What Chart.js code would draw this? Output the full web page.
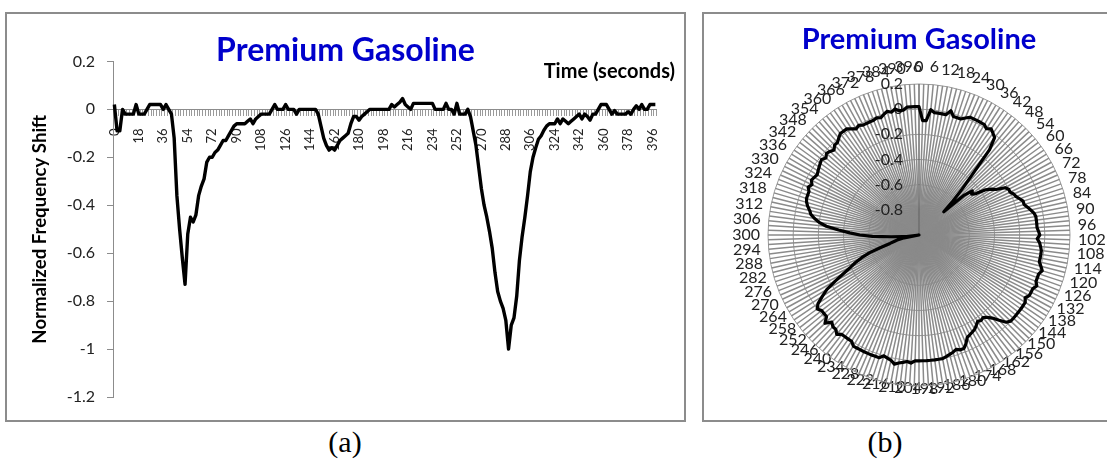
<!DOCTYPE html>
<html>
<head>
<meta charset="utf-8">
<script src="https://cdn.jsdelivr.net/npm/chart.js@4.4.1/dist/chart.umd.min.js"></script>
<style>
html, body { margin:0; padding:0; background:#fff; }
body { width:1107px; height:460px; overflow:hidden; position:relative; }
.box { position:absolute; border:2px solid #8c8c8c; box-sizing:border-box; background:#fff; }
#boxA { left:5px; top:12px; width:681px; height:410px; }
#boxB { left:702px; top:12px; width:440px; height:410px; }
canvas { display:block; }
.cap { position:absolute; top:427px; width:120px; text-align:center; font-family:'Liberation Serif', 'Times New Roman', serif; font-size:30px; line-height:30px; color:#000; }
#timeLbl { position:absolute; left:470px; width:205px; top:60px; text-align:right; font-family:Lato, sans-serif; font-weight:bold; font-size:20px; line-height:20px; color:#000; }
</style>
</head>
<body>
<div class="box" id="boxA"><canvas id="cA" width="677" height="406"></canvas></div>
<div class="box" id="boxB"><canvas id="cB" width="436" height="406"></canvas></div>
<div id="timeLbl">Time (seconds)</div>
<div class="cap" style="left:285px">(a)</div>
<div class="cap" style="left:825px">(b)</div>
<script>
// ---- data ----
// time categories (seconds), one sample every 2 s
const times = Array.from({length: 200}, (_, i) => i * 2);
// normalized frequency shift
const shift = [
  0.02, -0.09, -0.09, 0, -0.02, -0.02, -0.02, -0.02, 0.02, -0.02,
  -0.02, -0.02, 0, 0.02, 0.02, 0.02, 0.02, 0.02, 0, 0.02,
  0, -0.02, -0.12, -0.36, -0.5, -0.62, -0.73, -0.52, -0.45, -0.47,
  -0.44, -0.36, -0.32, -0.29, -0.22, -0.2, -0.2, -0.18, -0.17, -0.15,
  -0.13, -0.13, -0.11, -0.09, -0.07, -0.06, -0.06, -0.06, -0.06, -0.05,
  -0.04, -0.06, -0.04, -0.03, -0.02, -0.02, -0.02, -0.02, 0, 0.02,
  0, 0, 0, 0.02, 0, 0, 0, -0.02, 0, 0,
  0, 0, 0, 0, 0, -0.02, -0.07, -0.12, -0.15, -0.17,
  -0.16, -0.17, -0.15, -0.13, -0.12, -0.11, -0.1, -0.06, -0.03, -0.03,
  -0.045, -0.03, -0.02, -0.01, 0, 0, 0, 0, 0, 0,
  0, 0, 0.02, 0.01, 0.02, 0.03, 0.045, 0.02, 0.01, 0,
  0.025, 0.025, 0.025, 0.025, 0.025, 0.025, 0.025, 0.025, 0, 0,
  0, 0, 0.025, 0, 0, -0.02, 0.025, -0.02, -0.02, -0.02,
  0, -0.03, -0.09, -0.15, -0.24, -0.33, -0.4, -0.45, -0.51, -0.58,
  -0.68, -0.76, -0.8, -0.83, -0.88, -1.0, -0.9, -0.87, -0.78, -0.63,
  -0.53, -0.45, -0.36, -0.26, -0.2, -0.16, -0.125, -0.11, -0.087, -0.07,
  -0.06, -0.06, -0.06, -0.04, -0.06, -0.04, -0.05, -0.06, -0.05, -0.04,
  -0.03, -0.02, -0.04, -0.02, -0.03, -0.045, -0.02, -0.02, 0, 0.02,
  0.02, 0.02, 0, -0.02, -0.005, -0.02, -0.02, -0.02, -0.02, -0.01,
  -0.02, 0, 0.015, 0, 0.02, 0, 0, 0.02, 0.02, 0.02
];
// tick labels
const lineTickLabels = [0, 18, 36, 54, 72, 90, 108, 126, 144, 162, 180, 198, 216, 234, 252, 270, 288, 306, 324, 342, 360, 378, 396];
const radarTickLabels = [0, 6, 12, 18, 24, 30, 36, 42, 48, 54, 60, 66, 72, 78, 84, 90, 96, 102, 108, 114, 120, 126, 132, 138, 144, 150,
  156, 162, 168, 174, 180, 186, 192, 198, 204, 210, 216, 222, 228, 234, 240, 246, 252, 258, 264, 270, 276, 282, 288, 294,
  300, 306, 312, 318, 324, 330, 336, 342, 348, 354, 360, 366, 372, 378, 384, 390, 396];
const yTickValues = [0.2, 0, -0.2, -0.4, -0.6, -0.8, -1, -1.2];
const radialTickValues = [0.2, 0, -0.2, -0.4, -0.6, -0.8];
const titleText = 'Premium Gasoline';

Chart.defaults.font.family = 'Lato';
Chart.defaults.color = '#222';

const fmt = v => String(Math.round(v * 10) / 10);

// ---- panel (a): line chart ----
new Chart(document.getElementById('cA'), {
  type: 'line',
  data: {
    labels: times,
    datasets: [{ data: shift, borderColor: '#000', borderWidth: 3.4, pointRadius: 0, tension: 0, fill: false, borderJoinStyle: 'round' }]
  },
  options: {
    responsive: false, animation: false, events: [],
    layout: { padding: { left: 22, right: 22, top: 0, bottom: 23 } },
    plugins: {
      legend: { display: false }, tooltip: { enabled: false },
      title: { display: true, text: titleText, color: '#0000cc',
        font: { family: 'Lato', size: 32, weight: 'bold', lineHeight: 0.7 },
        padding: { top: 25, bottom: 0 } }
    },
    scales: {
      x: {
        type: 'category', position: { y: 0 }, offset: true,
        grid: { offset: true, drawOnChartArea: false, drawTicks: true, tickLength: 6, color: '#9a9a9a', lineWidth: 1 },
        border: { display: true, color: '#8c8c8c', width: 1 },
        ticks: {
          autoSkip: false, maxRotation: 90, minRotation: 90, padding: 13, color: '#222',
          font: { family: 'Lato', size: 13 },
          callback: function (v, i) { const t = times[i]; return lineTickLabels.includes(t) ? String(t) : ''; }
        }
      },
      y: {
        min: -1.2, max: 0.2,
        afterFit: s => { s.width = 84; },
        afterBuildTicks: s => { s.ticks = yTickValues.map(v => ({ value: v })); },
        ticks: { padding: 12, color: '#222', font: { family: 'Lato', size: 16 }, callback: v => fmt(v) },
        grid: { drawOnChartArea: false, drawTicks: true, tickLength: 6, color: '#8c8c8c' },
        border: { display: true, color: '#8c8c8c' },
        title: { display: true, text: 'Normalized Frequency Shift', color: '#000',
          font: { family: 'Lato', size: 18.6, weight: 'bold' }, padding: { top: 0, bottom: 0 } }
      }
    }
  }
});

// ---- panel (b): radar chart ----
const PL_PAD = 8;
const PL_SIZE = 16;
const radialTicksPlugin = {
  id: 'radialTicks',
  afterLayout(chart) {
    // centre the category labels around the ring, as the original does
    const s = chart.scales.r;
    const items = s._pointLabelItems;
    if (!items) return;
    const h = PL_SIZE * 1.2;
    items.forEach((it, i) => {
      const w = it.right - it.left;
      const p = s.getPointPosition(i, s.drawingArea + PL_PAD);
      const th = p.angle + Math.PI / 2;
      const sn = Math.sin(th), cs = Math.cos(th);
      const cx = p.x + (w / 2) * sn;
      const cy = p.y - (h / 2) * cs - 15 * Math.max(0, -cs);
      it.x = cx; it.textAlign = 'center'; it.y = cy - h / 2;
      it.left = cx - w / 2; it.right = cx + w / 2; it.top = it.y; it.bottom = it.y + h;
    });
  },
  beforeDatasetsDraw(chart) {
    const s = chart.scales.r; const ctx = chart.ctx;
    ctx.save();
    ctx.font = '16px Lato';
    ctx.fillStyle = '#222';
    ctx.textAlign = 'right';
    ctx.textBaseline = 'middle';
    radialTickValues.forEach(v => {
      const d = s.getDistanceFromCenterForValue(v);
      ctx.fillText(fmt(v), s.xCenter - 16, s.yCenter - d);
    });
    ctx.restore();
  }
};

new Chart(document.getElementById('cB'), {
  type: 'radar',
  data: {
    labels: times,
    datasets: [{ data: shift, borderColor: '#000', borderWidth: 3.2, pointRadius: 0, tension: 0, fill: false, borderJoinStyle: 'round' }]
  },
  options: {
    responsive: false, animation: false, events: [],
    layout: { padding: { left: 2, right: 8, top: 0, bottom: 6 } },
    plugins: {
      legend: { display: false }, tooltip: { enabled: false },
      title: { display: true, text: titleText, color: '#0000cc',
        font: { family: 'Lato', size: 29, weight: 'bold' }, padding: { top: 8, bottom: 0 } }
    },
    scales: {
      r: {
        min: -1, max: 0.2,
        ticks: { stepSize: 0.2, display: false },
        grid: { circular: true, color: '#999999', lineWidth: 1 },
        angleLines: { color: c => (c.index === 0 ? '#6e6e6e' : '#8a8a8a'), lineWidth: 1.5 },
        pointLabels: {
          display: true, padding: PL_PAD, color: '#222', font: { family: 'Lato', size: PL_SIZE },
          callback: (l, i) => (radarTickLabels.includes(times[i]) ? String(times[i]) : '')
        }
      }
    }
  },
  plugins: [radialTicksPlugin]
});
</script>
</body>
</html>
